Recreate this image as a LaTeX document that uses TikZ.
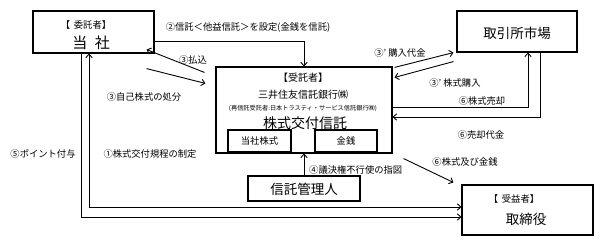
\documentclass[tikz,border=0pt]{standalone}
\usepackage{fontspec}
\setmainfont{Noto Sans CJK JP}
\usetikzlibrary{arrows.meta}
\tikzset{
  box/.style={draw, line width=1.1pt, inner sep=0pt, fill=white},
  lbl/.style={inner sep=0pt, font=\fontsize{9.3}{10}\selectfont},
  big/.style={inner sep=0pt, font=\fontsize{13.5}{14}\selectfont},
  arr/.style={line width=0.9pt, -{Straight Barb[length=3.5pt,width=6.5pt,line width=0.9pt]}},
  darr/.style={line width=0.9pt, {Straight Barb[length=3.5pt,width=6.5pt,line width=0.9pt]}-{Straight Barb[length=3.5pt,width=6.5pt,line width=0.9pt]}},
  plain/.style={line width=0.9pt}
}
\begin{document}
\begin{tikzpicture}[x=1pt,y=-1pt]
\useasboundingbox[fill=white] (0,0) rectangle (600,249);
\node[box, minimum width=121pt, minimum height=42pt] (tojo) at (93.5,32) {};
\node[box, minimum width=120pt, minimum height=41pt] (market) at (517,31.5) {};
\node[box, minimum width=131pt, minimum height=50pt] (benef) at (527.5,210) {};
\draw[darr] ([xshift=-4.5pt]tojo.south) |- ([yshift=3pt]benef.west);
\draw[arr] ([xshift=-12.5pt]tojo.south) |- ([yshift=-7pt]benef.west);
\node[box, minimum width=176pt, minimum height=86pt] (trustee) at (304,110) {};
\node[box, minimum width=63pt, minimum height=22pt] (sk) at (259.5,141) {};
\node[box, minimum width=62pt, minimum height=22pt] (kin) at (346,141) {};
\node[box, minimum width=112pt, minimum height=25pt] (kanri) at (304,188.5) {};
% texts in boxes
\node[lbl] (t1a) at (86,25) {【\hspace{0.4em}委託者】};
\node[inner sep=0pt, font=\fontsize{15}{16}\selectfont] (t1b) at (91,43) {当\hspace{0.5em}社};
\node[big] (t2) at (517,33) {取引所市場};
\node[inner sep=0pt, font=\fontsize{10}{11}\selectfont] (t3a) at (303,78) {【受託者】};
\node[inner sep=0pt, font=\fontsize{10}{11}\selectfont] (t3b) at (303,95) {三井住友信託銀行㈱};
\node[inner sep=0pt, font=\fontsize{6.2}{7}\selectfont] (t3c) at (303,108) {(再信託受託者:日本トラスティ・サービス信託銀行㈱)};
\node[inner sep=0pt, font=\fontsize{14}{15}\selectfont] (t3d) at (305,123) {株式交付信託};
\node[lbl] (tsk) at (sk) {当社株式};
\node[lbl] (tkin) at (kin) {金銭};
\node[big] (tkanri) at (304,189) {信託管理人};
\node[lbl] (t4a) at (514,199) {【\hspace{0.4em}受益者】};
\node[big] (t4b) at (526,219) {取締役};
% connectors
\draw[arr] ([yshift=-9pt]tojo.east) -| (trustee.north);
\draw[arr] ([xshift=-11pt,yshift=-6pt]trustee.north west) -- ([xshift=-8pt,yshift=4pt]tojo.south east);
\draw[arr] ([xshift=-8pt,yshift=-15pt]tojo.south east) -- ([xshift=-10pt,yshift=-17pt]trustee.north west);
\draw[arr] ([xshift=2pt,yshift=-1pt]trustee.north east) -- ([xshift=-3pt]market.south west);
\draw[arr] ([xshift=-3pt,yshift=-9pt]market.south west) -- ([xshift=2pt,yshift=-11pt]trustee.north east);
\draw[arr] ([yshift=3pt]trustee.east) -| ([xshift=11pt]market.south);
\draw[arr] ([xshift=23pt]market.south) |- ([yshift=-7pt]trustee.east);
\draw[arr] ([xshift=11pt,yshift=-5pt]trustee.south east) -- ([xshift=-8pt,yshift=2pt]benef.north west);
\draw[arr] (kanri.north) -- (kanri.north |- trustee.south);
% labels
\node[lbl] (l2) at (248,27) {②信託＜他益信託＞を設定(金銭を信託)};
\node[lbl] (l3a) at (193,60) {③払込};
\node[lbl] (l3b) at (144,97) {③自己株式の処分};
\node[lbl] (l3c) at (400,53) {③’ 購入代金};
\node[lbl] (l3d) at (455,83) {③’ 株式購入};
\node[lbl] (l6a) at (482,101) {⑥株式売却};
\node[lbl] (l6b) at (481,135) {⑥売却代金};
\node[lbl] (l6c) at (465,162) {⑥株式及び金銭};
\node[lbl, anchor=west] (l4) at (309,170) {④議決権不行使の指図};
\node[lbl] (l5) at (43,154) {⑤ポイント付与};
\node[lbl] (l1) at (150,154) {①株式交付規程の制定};
\end{tikzpicture}
\end{document}
